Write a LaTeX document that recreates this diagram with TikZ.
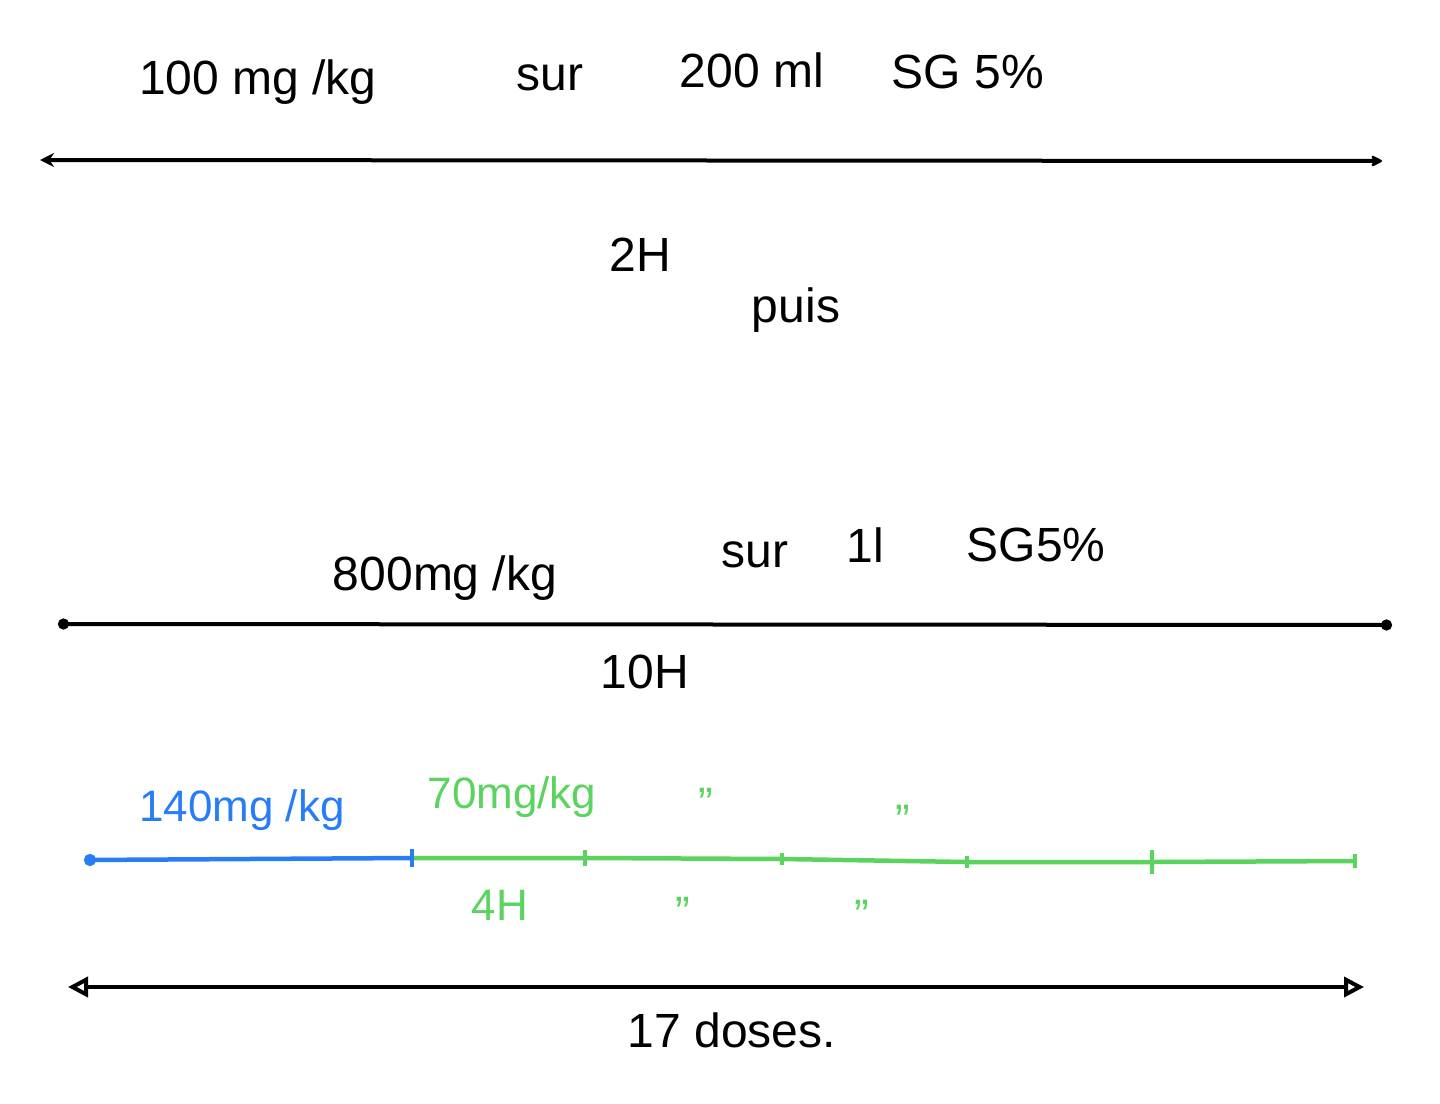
\documentclass[tikz,border=0pt]{standalone}
\usepackage{fontspec}
\setmainfont{Liberation Sans}
\usetikzlibrary{arrows.meta}
\definecolor{hblue}{RGB}{40,125,245}
\definecolor{hgreen}{RGB}{90,212,95}
\tikzset{
  hw/.style={inner sep=0pt, font=\fontsize{48}{54}\selectfont},
  hws/.style={inner sep=0pt, font=\fontsize{44}{50}\selectfont},
  axis/.style={line width=4pt, black},
  bluel/.style={line width=4.5pt, hblue},
  greenl/.style={line width=4.5pt, hgreen},
  tickm/.style={line width=3.5pt, hgreen}
}
\begin{document}
\begin{tikzpicture}[x=1pt,y=-1pt]
\useasboundingbox (0,0) rectangle (1440,1103);
% line 1
\node[hw] (t1a) at (258,82) {100 mg /kg};
\node[hw] (t1b) at (550,78) {sur};
\node[hw] (t1c) at (752,70) {200 ml};
\node[hw] (t1d) at (968,72) {SG 5\%};
\coordinate (a1) at (40,160);
\coordinate (b1) at (1382,161);
\draw[axis, {Stealth[length=14pt,width=14pt]}-{Stealth[length=14pt,width=14pt,round]}] (a1) -- (b1);
\node[hw] (h2) at (640,255) {2H};
\node[hw] (puis) at (796,310) {puis};
% line 2
\node[hw] (t2a) at (445,578) {800mg /kg};
\node[hw] (t2b) at (755,555) {sur};
\node[hw] (t2c) at (865,545) {1l};
\node[hw] (t2d) at (1036,545) {SG5\%};
\coordinate (a2) at (58,624);
\coordinate (b2) at (1392,625);
\draw[axis, {Circle[length=11pt,width=11pt]}-{Circle[length=11pt,width=11pt]}] (a2) -- (b2);
\node[hw] (h10) at (645,672) {10H};
% blue / green line
\node[hws, text=hblue] (t3a) at (242,810) {140mg /kg};
\node[hws, text=hgreen] (t3b) at (512,797) {70mg/kg};
\node[hws, text=hgreen] (q1) at (706,803) {"};
\node[hws, text=hgreen] (q2) at (903,820) {"};
\node[hws, text=hgreen] (h4) at (500,905) {4H};
\node[hws, text=hgreen] (q3) at (683,912) {"};
\node[hws, text=hgreen] (q4) at (862,915) {"};
\coordinate (c0) at (84,860);
\coordinate (g0) at (412,858);
\coordinate (g1) at (585,858);
\coordinate (g2) at (782,859);
\coordinate (g3) at (967,862);
\coordinate (g4) at (1152,862);
\coordinate (g5) at (1355,861);
\draw[bluel, {Circle[length=12pt,width=12pt]}-] (c0) -- (g0);
\draw[greenl] (g0) -- (g1) -- (g2) -- (g3) -- (g4) -- (g5);
\foreach \p/\h in {g1/8,g2/6,g3/6,g4/12,g5/7}
  \draw[tickm] ([yshift=-\h pt]\p) -- ([yshift=\h pt]\p);
\draw[line width=3.5pt, hblue] ([yshift=-9pt]g0) -- ([yshift=9pt]g0);
% line 3
\coordinate (a3) at (68,987);
\coordinate (b3) at (1364,987);
\draw[axis, {Triangle[open,length=20pt,width=20pt]}-{Triangle[open,length=20pt,width=20pt]}] (a3) -- (b3);
\node[hw] (doses) at (732,1030) {17 doses.};
\end{tikzpicture}
\end{document}
